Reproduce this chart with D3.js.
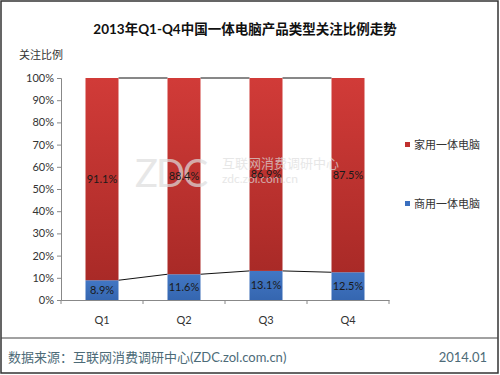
<!DOCTYPE html>
<meta charset="utf-8">
<script src="https://cdn.jsdelivr.net/npm/d3@7"></script>
<style>
  body { margin: 0; background: #fff; }
  text { font-family: "Lato", "Noto Sans CJK SC", sans-serif; }
</style>
<div id="chart"></div>
<script>
// data
var quarters = ["Q1", "Q2", "Q3", "Q4"];
var business = [8.9, 11.6, 13.1, 12.5];   // 商用一体电脑
var home = [91.1, 88.4, 86.9, 87.5];      // 家用一体电脑
var yTicks = [0, 10, 20, 30, 40, 50, 60, 70, 80, 90, 100];

var W = 500, H = 375;
var svg = d3.select("#chart").append("svg")
  .attr("width", W).attr("height", H);

// frame
svg.append("rect").attr("x", 1).attr("y", 1).attr("width", 497).attr("height", 372)
  .attr("fill", "#fff").attr("stroke", "#333").attr("stroke-width", 1.5);

var defs = svg.append("defs");
var gr = defs.append("linearGradient").attr("id", "redg").attr("x1", 0).attr("y1", 0).attr("x2", 0).attr("y2", 1);
gr.append("stop").attr("offset", "0%").attr("stop-color", "#d13b38");
gr.append("stop").attr("offset", "100%").attr("stop-color", "#a92a27");
var gb = defs.append("linearGradient").attr("id", "blueg").attr("x1", 0).attr("y1", 0).attr("x2", 0).attr("y2", 1);
gb.append("stop").attr("offset", "0%").attr("stop-color", "#4277c4");
gb.append("stop").attr("offset", "100%").attr("stop-color", "#3566b0");

var plotLeft = 61, plotRight = 389, plotTop = 78, plotBottom = 300;
var x = d3.scaleBand().domain(quarters).range([plotLeft, plotRight]);
var y = d3.scaleLinear().domain([0, 100]).range([plotBottom, plotTop]);
var barW = 33;

// title
svg.append("text").attr("x", 245).attr("y", 34).attr("text-anchor", "middle")
  .attr("font-size", 13.5).attr("font-weight", "bold").attr("fill", "#111")
  .text("2013年Q1-Q4中国一体电脑产品类型关注比例走势");
svg.append("text").attr("x", 19).attr("y", 59).attr("font-size", 11).attr("fill", "#333")
  .text("关注比例");

// y axis
var ya = svg.append("g").attr("transform", "translate(" + plotLeft + ",0)")
  .call(d3.axisLeft(y).tickValues(yTicks).tickSize(4).tickPadding(3).tickFormat(function(d) { return d + "%"; }));
ya.select(".domain").attr("stroke", "#888");
ya.selectAll(".tick line").attr("stroke", "#888");
ya.selectAll("text").attr("font-size", 11).attr("fill", "#333");

// x axis
var xa = svg.append("g").attr("transform", "translate(0," + plotBottom + ")")
  .call(d3.axisBottom(x).tickSize(0).tickPadding(16));
xa.select(".domain").attr("stroke", "#888");
xa.selectAll("text").attr("font-size", 11).attr("fill", "#333");
xa.selectAll(".bound").data(quarters.concat([null])).enter().append("line")
  .attr("x1", function(d, i) { return plotLeft + i * x.step(); })
  .attr("x2", function(d, i) { return plotLeft + i * x.step(); })
  .attr("y1", 0).attr("y2", 4).attr("stroke", "#888");

function cx(q) { return x(q) + x.bandwidth() / 2; }

// series lines between bars
for (var i = 0; i < quarters.length - 1; i++) {
  svg.append("line")
    .attr("x1", cx(quarters[i]) + barW / 2).attr("x2", cx(quarters[i + 1]) - barW / 2)
    .attr("y1", y(business[i])).attr("y2", y(business[i + 1]))
    .attr("stroke", "#111").attr("stroke-width", 1);
  svg.append("line")
    .attr("x1", cx(quarters[i]) + barW / 2).attr("x2", cx(quarters[i + 1]) - barW / 2)
    .attr("y1", y(business[i] + home[i])).attr("y2", y(business[i + 1] + home[i + 1]))
    .attr("stroke", "#111").attr("stroke-width", 1);
}

// bars
svg.selectAll(".biz").data(quarters).enter().append("rect")
  .attr("x", function(d) { return cx(d) - barW / 2; })
  .attr("y", function(d, i) { return y(business[i]); })
  .attr("width", barW)
  .attr("height", function(d, i) { return y(0) - y(business[i]); })
  .attr("fill", "url(#blueg)");
svg.selectAll(".home").data(quarters).enter().append("rect")
  .attr("x", function(d) { return cx(d) - barW / 2; })
  .attr("y", function(d, i) { return y(business[i] + home[i]); })
  .attr("width", barW)
  .attr("height", function(d, i) { return y(business[i]) - y(business[i] + home[i]); })
  .attr("fill", "url(#redg)");

// watermark (drawn over the bars, semi-transparent)
var wm = svg.append("g").attr("fill", "#ddd").attr("opacity", 0.7);
wm.append("text").attr("x", 135).attr("y", 187).attr("font-size", 38)
  .attr("font-family", "DejaVu Serif").attr("letter-spacing", -2).text("ZDC");
wm.append("text").attr("x", 222).attr("y", 168).attr("font-size", 13).text("互联网消费调研中心");
wm.append("text").attr("x", 222).attr("y", 183).attr("font-size", 12).text("zdc.zol.com.cn");

// labels
svg.selectAll(".lb").data(quarters).enter().append("text")
  .attr("x", function(d) { return cx(d); })
  .attr("y", function(d, i) { return y(business[i] / 2) + 4; })
  .attr("text-anchor", "middle").attr("font-size", 11).attr("fill", "#1a1a1a")
  .text(function(d, i) { return business[i] + "%"; });
svg.selectAll(".lh").data(quarters).enter().append("text")
  .attr("x", function(d) { return cx(d); })
  .attr("y", function(d, i) { return y(business[i] + home[i] / 2) + 4; })
  .attr("text-anchor", "middle").attr("font-size", 11).attr("fill", "#1a1a1a")
  .text(function(d, i) { return home[i] + "%"; });

// legend
var legend = [{name: "家用一体电脑", c: "#c0302e", y: 146}, {name: "商用一体电脑", c: "#3a6fbf", y: 205}];
legend.forEach(function(l) {
  svg.append("rect").attr("x", 405).attr("y", l.y - 4).attr("width", 5).attr("height", 5).attr("fill", l.c);
  svg.append("text").attr("x", 414).attr("y", l.y + 3).attr("font-size", 11).attr("fill", "#333").text(l.name);
});

// footer
svg.append("line").attr("x1", 1).attr("x2", 498).attr("y1", 338).attr("y2", 338)
  .attr("stroke", "#444").attr("stroke-width", 1);
svg.append("text").attr("x", 8).attr("y", 362).attr("font-size", 13).attr("fill", "#4d6b78")
  .text("数据来源：互联网消费调研中心(ZDC.zol.com.cn)");
svg.append("text").attr("x", 487).attr("y", 362).attr("text-anchor", "end").attr("font-size", 13).attr("fill", "#4d6b78")
  .text("2014.01");
</script>
